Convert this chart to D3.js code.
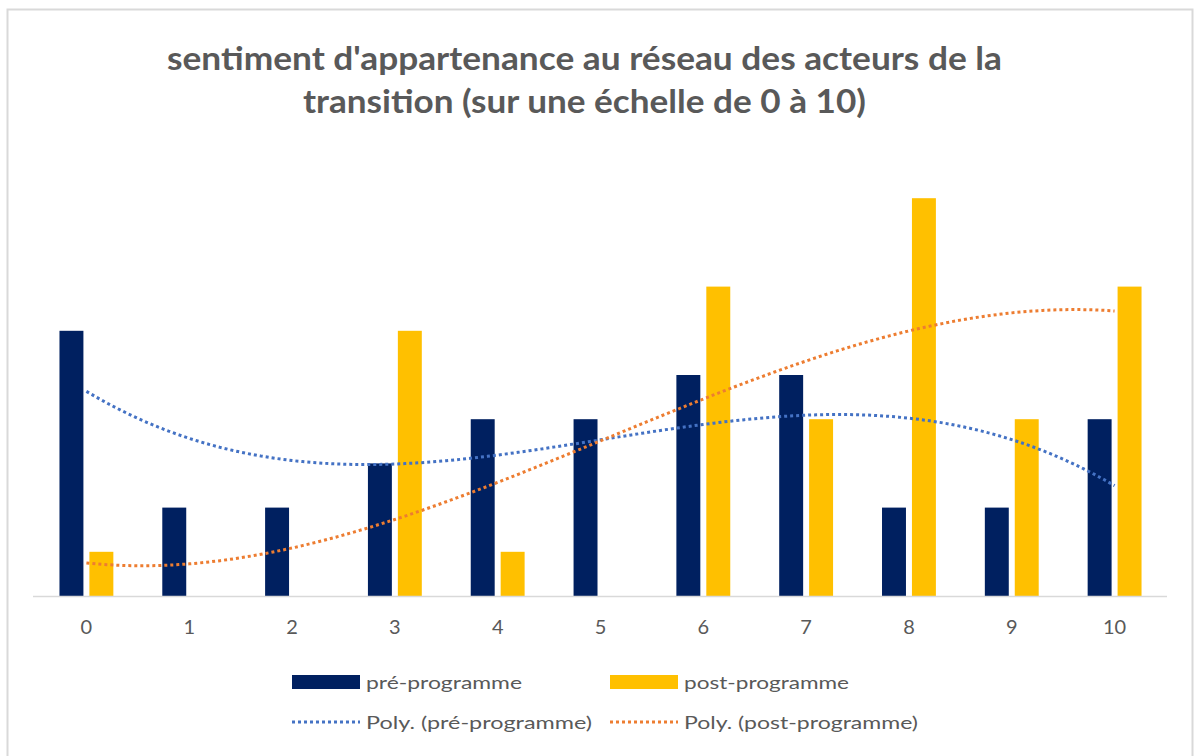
<!DOCTYPE html>
<html>
<head>
<meta charset="utf-8">
<script src="https://cdn.jsdelivr.net/npm/d3@7/dist/d3.min.js"></script>
<style>
  html, body { margin: 0; padding: 0; background: #fff; }
  text { font-family: Lato, "Open Sans", sans-serif; fill: #595959; }
</style>
</head>
<body>
<div class="chart"></div>
<script>
// data
const categories = ['0','1','2','3','4','5','6','7','8','9','10'];
const prePrograms = [6, 2, 2, 3, 4, 4, 5, 5, 2, 2, 4];
const postPrograms = [1, 0, 0, 6, 1, 0, 7, 4, 9, 4, 7];
const seriesNames = ['pré-programme', 'post-programme'];
const trendNames = ['Poly. (pré-programme)', 'Poly. (post-programme)'];
const titleLines = ["sentiment d'appartenance au réseau des acteurs de la", "transition (sur une échelle de 0 à 10)"];

const width = 1194, height = 756;
const colors = ['#002060', '#FFC000'];
const trendColors = ['#4472C4', '#ED7D31'];

const svg = d3.select('.chart')
    .append('svg')
    .attr('width', width)
    .attr('height', height);

// outer frame
svg.append('rect')
    .attr('x', 7.5).attr('y', 9.5)
    .attr('width', 1185).attr('height', 770)
    .attr('fill', 'none')
    .attr('stroke', '#d9d9d9')
    .attr('stroke-width', 2);

// title
const titleW = [835, 563];
svg.selectAll('.title')
    .data(titleLines)
    .enter().append('text')
    .attr('class', 'title')
    .attr('x', 584.5)
    .attr('y', (d, i) => 70 + i * 43)
    .attr('text-anchor', 'middle')
    .attr('font-size', 32)
    .attr('font-weight', 'bold')
    .attr('textLength', (d, i) => titleW[i])
    .attr('lengthAdjust', 'spacingAndGlyphs')
    .text(d => d);

// scales
const x0 = d3.scaleBand().domain(categories).range([35, 1166]).paddingInner(0.476).paddingOuter(0.238);
const x1 = d3.scaleBand().domain([0, 1]).range([0, x0.bandwidth()]).paddingInner(0.2);
const y = d3.scaleLinear().domain([0, 10]).range([596, 154]);

// x axis
const xAxis = svg.append('g')
    .attr('transform', 'translate(0,596)')
    .call(d3.axisBottom(x0).tickSize(0).tickPadding(24));
xAxis.select('.domain').remove();
xAxis.selectAll('text')
    .attr('font-size', 20)
    .attr('fill', '#595959')
    .style('font-family', 'Lato, sans-serif');

// bars
const rows = categories.map((c, i) => ({cat: c, vals: [prePrograms[i], postPrograms[i]]}));
const groups = svg.selectAll('.grp')
    .data(rows)
    .enter().append('g')
    .attr('class', 'grp')
    .attr('transform', d => `translate(${x0(d.cat)},0)`);

groups.selectAll('rect')
    .data(d => d.vals.map((v, k) => ({k, v})))
    .enter().append('rect')
    .attr('x', d => x1(d.k))
    .attr('width', x1.bandwidth())
    .attr('y', d => y(d.v))
    .attr('height', d => y(0) - y(d.v))
    .attr('fill', d => colors[d.k]);

svg.append('line')
    .attr('x1', 33).attr('x2', 1167)
    .attr('y1', 596.5).attr('y2', 596.5)
    .attr('stroke', '#d9d9d9')
    .attr('stroke-width', 1.5);

// cubic least squares trendline (like Excel Poly. order 3)
function polyFit(ys, order) {
    const n = order + 1;
    const A = d3.range(n).map(() => new Array(n + 1).fill(0));
    ys.forEach((v, xi) => {
        for (let r = 0; r < n; r++) {
            for (let c = 0; c < n; c++) A[r][c] += Math.pow(xi, r + c);
            A[r][n] += v * Math.pow(xi, r);
        }
    });
    for (let i = 0; i < n; i++) {
        let p = i;
        for (let r = i + 1; r < n; r++) if (Math.abs(A[r][i]) > Math.abs(A[p][i])) p = r;
        [A[i], A[p]] = [A[p], A[i]];
        for (let r = 0; r < n; r++) {
            if (r === i) continue;
            const f = A[r][i] / A[i][i];
            for (let c = i; c <= n; c++) A[r][c] -= f * A[i][c];
        }
    }
    return A.map((row, i) => row[n] / row[i]);
}

const xt = d3.scaleLinear().domain([0, 10])
    .range([x0('0') + x0.bandwidth() / 2, x0('10') + x0.bandwidth() / 2]);
const line = d3.line().x(d => xt(d[0])).y(d => y(d[1]));

[prePrograms, postPrograms].forEach((s, k) => {
    const coef = polyFit(s, 3);
    const pts = d3.range(0, 10.001, 0.1).map(t => [t, coef.reduce((a, c, j) => a + c * Math.pow(t, j), 0)]);
    svg.append('path')
        .datum(pts)
        .attr('d', line)
        .attr('fill', 'none')
        .attr('stroke', trendColors[k])
        .attr('stroke-width', 3)
        .attr('stroke-dasharray', '3,3');
});

// legend
const legX = [292, 610];
const legTextW = [[156, 165], [226, 234]];
seriesNames.forEach((name, k) => {
    svg.append('rect')
        .attr('x', legX[k]).attr('y', 675)
        .attr('width', 68).attr('height', 14)
        .attr('fill', colors[k]);
    svg.append('text')
        .attr('x', legX[k] + 74).attr('y', 689)
        .attr('font-size', 18)
        .attr('textLength', legTextW[0][k])
        .attr('lengthAdjust', 'spacingAndGlyphs')
        .text(name);
});
trendNames.forEach((name, k) => {
    svg.append('line')
        .attr('x1', legX[k]).attr('x2', legX[k] + 68)
        .attr('y1', 722).attr('y2', 722)
        .attr('stroke', trendColors[k])
        .attr('stroke-width', 3)
        .attr('stroke-dasharray', '3,3');
    svg.append('text')
        .attr('x', legX[k] + 74).attr('y', 729)
        .attr('font-size', 18)
        .attr('textLength', legTextW[1][k])
        .attr('lengthAdjust', 'spacingAndGlyphs')
        .text(name);
});
</script>
</body>
</html>
